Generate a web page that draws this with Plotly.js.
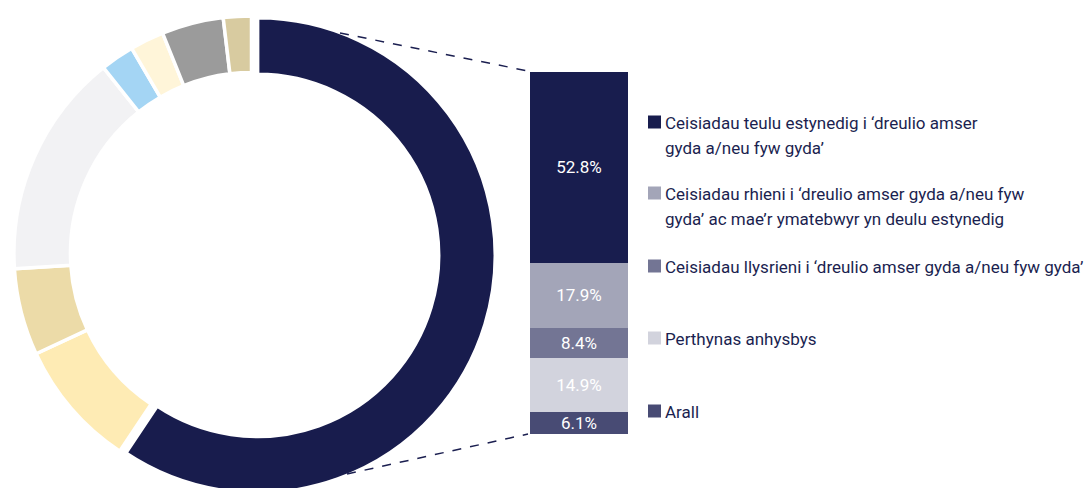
<!DOCTYPE html>
<html>
<head>
<meta charset="utf-8">
<script src="https://cdn.plot.ly/plotly-3.0.1.min.js"></script>
<style>
  html, body { margin: 0; padding: 0; background: #fff; overflow: hidden; }
  #wrap { position: relative; width: 1091px; height: 488px; overflow: hidden; }
  #chart { width: 1091px; height: 500px; }
</style>
</head>
<body>
<div id="wrap"><div id="chart"></div></div>
<script>
// ---- Donut data (% of all responses) ----
const sliceLabels = ['Teulu estynedig', 'Categori 2', 'Categori 3', 'Categori 4', 'Categori 5', 'Categori 6', 'Categori 7', 'Categori 8'];
const sliceValues = [59.3, 8.7, 5.9, 15.3, 2.3, 2.3, 4.2, 1.9];
const sliceColors = ['#181c4d', '#feebb4', '#ecdba8', '#f2f2f4', '#a4d5f4', '#fff5d9', '#9b9b9b', '#d8cba0'];
const slicePull   = [0.027, 0, 0, 0, 0, 0, 0, 0];

// ---- Breakdown bar data (bottom to top) ----
const barNames = [
  'Arall',
  'Perthynas anhysbys',
  'Ceisiadau llysrieni i ‘dreulio amser gyda a/neu fyw gyda’',
  'Ceisiadau rhieni i ‘dreulio amser gyda a/neu fyw<br>gyda’ ac mae’r ymatebwyr yn deulu estynedig',
  'Ceisiadau teulu estynedig i ‘dreulio amser<br>gyda a/neu fyw gyda’'
];
const barValues = [6.1, 14.9, 8.4, 17.9, 52.8];
const barColors = ['#484b74', '#d2d3dd', '#737594', '#a3a5b8', '#181d4e'];

// legend order: top to bottom
const legendOrder = [4, 3, 2, 1, 0];

const H = 500, W = 1091;
const px = x => x / W;
const py = y => 1 - y / H;
const FONT = 'Roboto, "Open Sans", sans-serif';
const TEXTCOL = '#1b1f50';

const traces = [];
traces.push({
  type: 'pie',
  labels: sliceLabels,
  values: sliceValues,
  marker: { colors: sliceColors, line: { color: '#ffffff', width: 3.5 } },
  pull: slicePull,
  hole: 0.762,
  sort: false,
  direction: 'clockwise',
  rotation: 0,
  textinfo: 'none',
  hoverinfo: 'label+percent',
  showlegend: false,
  domain: { x: [px(7.5), px(495.5)], y: [py(497.5), py(9.5)] }
});

barValues.forEach((v, i) => {
  traces.push({
    type: 'bar',
    x: [0],
    y: [v],
    width: 1,
    name: barNames[i],
    marker: { color: barColors[i], line: { width: 0 } },
    text: [v.toFixed(1) + '%'],
    texttemplate: '%{text}',
    textposition: 'inside',
    insidetextanchor: 'middle',
    constraintext: 'none',
    textangle: 0,
    textfont: { color: '#ffffff', size: 17, family: FONT },
    showlegend: false,
    hoverinfo: 'name+y',
    xaxis: 'x', yaxis: 'y'
  });
});

const total = barValues.reduce((a, b) => a + b, 0);

// legend built from barNames / barColors
const legendY = [122, 193, 266, 338, 411];
const annotations = [];
const shapes = [];
legendOrder.forEach((idx, k) => {
  const yc = legendY[k];
  shapes.push({
    type: 'rect', xref: 'paper', yref: 'paper',
    x0: px(648), x1: px(661), y0: py(yc + 6.5), y1: py(yc - 6.5),
    fillcolor: barColors[idx], line: { width: 0 }
  });
  const lines = barNames[idx].split('<br>');
  lines.forEach((ln, j) => {
    annotations.push({
      xref: 'paper', yref: 'paper',
      x: px(663), y: py(yc + 1 + j * 25),
      xanchor: 'left', yanchor: 'middle',
      text: ln, showarrow: false,
      font: { family: FONT, size: 17, color: TEXTCOL }
    });
  });
});

// dashed connectors
shapes.push({ type: 'line', xref: 'paper', yref: 'paper', x0: px(340), y0: py(33), x1: px(528), y1: py(71),
  line: { color: '#1b1f50', width: 1.5, dash: 'dash' } });
shapes.push({ type: 'line', xref: 'paper', yref: 'paper', x0: px(347), y0: py(474), x1: px(528), y1: py(434),
  line: { color: '#1b1f50', width: 1.5, dash: 'dash' } });

const layout = {
  width: W, height: H,
  margin: { l: 0, r: 0, t: 0, b: 0, pad: 0 },
  paper_bgcolor: '#ffffff', plot_bgcolor: 'rgba(0,0,0,0)',
  barmode: 'stack',
  showlegend: false,
  font: { family: FONT, color: TEXTCOL },
  xaxis: { domain: [px(530), px(628)], range: [-0.5, 0.5], visible: false, fixedrange: true },
  yaxis: { domain: [py(434), py(72)], range: [0, total], visible: false, fixedrange: true },
  shapes: shapes,
  annotations: annotations
};

Plotly.newPlot('chart', traces, layout, { displayModeBar: false, staticPlot: true });
</script>
</body>
</html>
